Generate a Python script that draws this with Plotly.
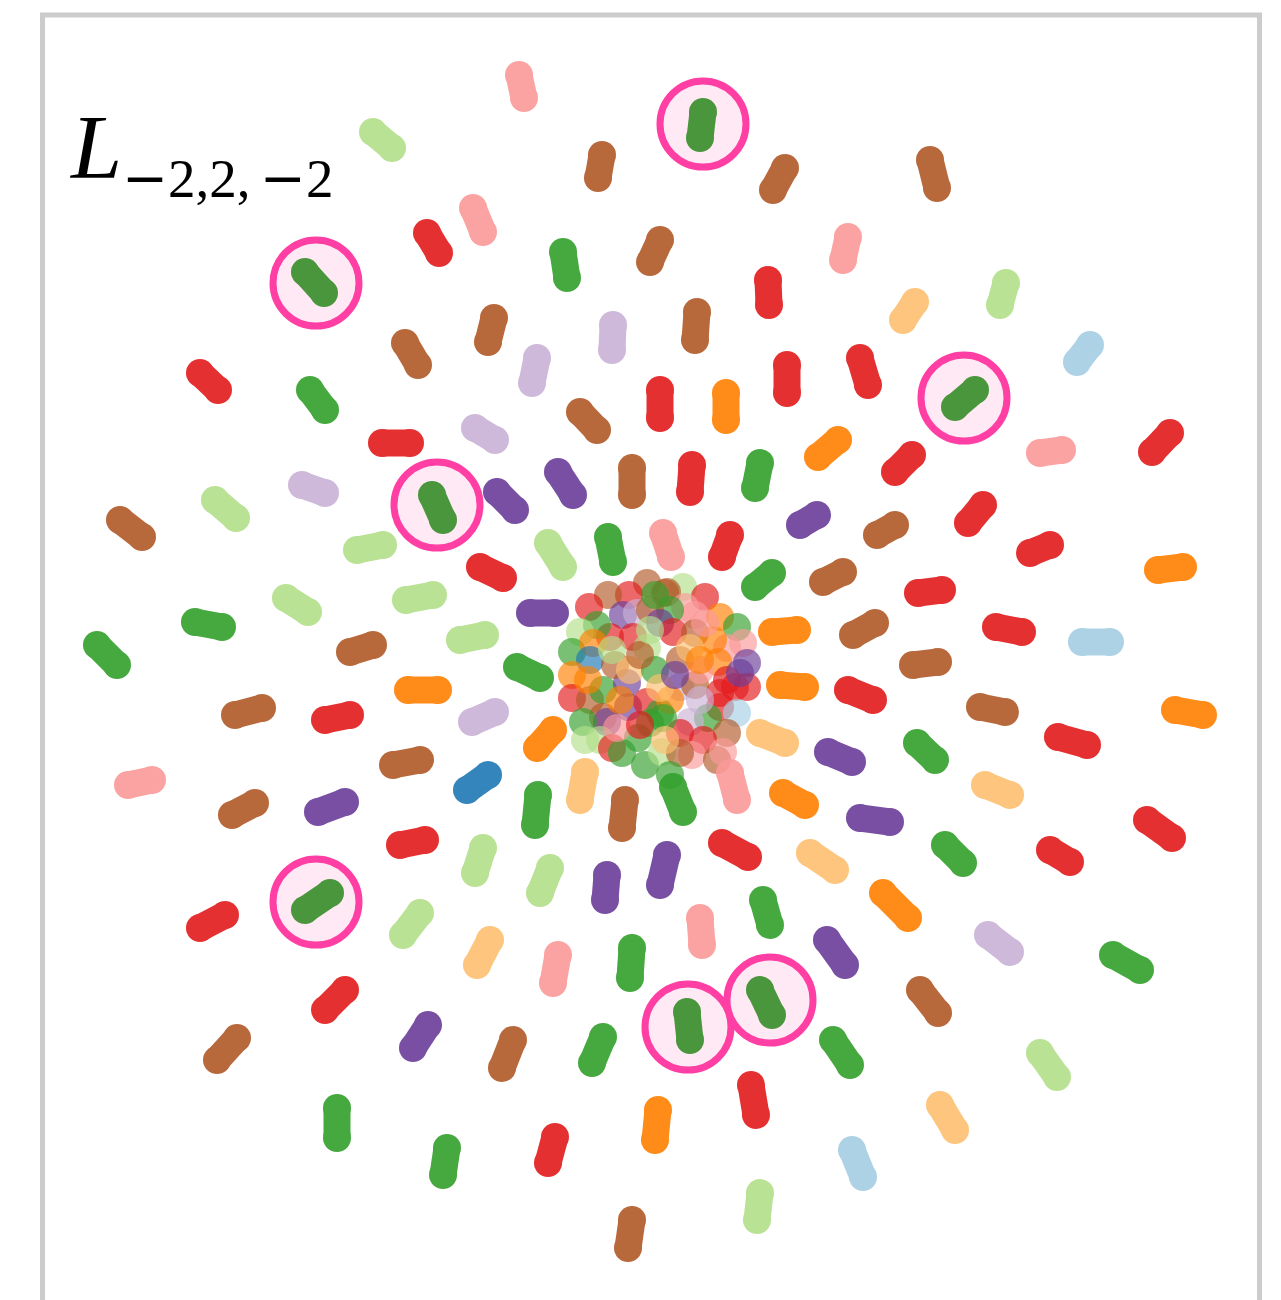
import plotly.graph_objects as go

# Paired palette
palette = {
    "lb": "#a6cee3", "b": "#1f78b4", "lg": "#b2df8a", "g": "#33a02c",
    "pk": "#fb9a99", "r": "#e31a1c", "lo": "#fdbf6f", "o": "#ff7f00",
    "lp": "#cab2d6", "p": "#6a3d9a", "br": "#b15928", "hg": "#4a963c",
}

# capsule start / end points (pixel-like units) and colour group
cap_x0 = [519,703,373,602,785,930,473,427,563,660,848,768,1006,915,305,494,613,697,1090,200,405,537,787,860,975,310,660,726,580,382,475,838,1040,1170,912,432,302,497,558,632,692,760,120,215,817,895,983,357,480,548,608,663,730,772,843,1050,918,1158,286,406,195,530,772,875,996,1082,97,350,460,517,913,408,780,848,1175,235,325,472,980,1058,553,760,828,917,128,393,467,585,538,730,673,783,985,232,318,625,860,400,483,722,810,945,1147,1050,550,607,667,883,330,200,420,763,700,490,558,632,827,988,1113,760,687,345,428,513,603,920,833,237,1040,337,751,658,940,447,555,852,760,632]
cap_y0 = [75,112,132,155,168,160,208,233,252,240,237,280,283,302,272,318,325,312,345,373,343,358,365,358,390,390,390,393,412,443,428,440,453,433,455,495,485,492,472,468,465,463,520,500,515,525,505,550,567,543,537,533,535,573,572,545,593,570,598,600,622,613,632,623,627,642,645,652,640,667,665,690,685,690,710,715,720,722,707,737,730,733,752,743,785,765,790,772,795,773,787,793,785,815,812,800,818,845,848,843,853,845,820,850,868,875,855,893,893,928,913,900,918,940,955,948,940,935,955,990,1012,990,1025,1040,1037,990,1040,1038,1053,1108,1085,1110,1105,1148,1137,1150,1193,1220]
cap_x1 = [524,700,392,598,773,937,483,439,567,650,843,769,1000,903,324,488,612,695,1077,218,418,532,787,868,955,325,660,726,597,410,495,818,1062,1152,895,443,325,515,573,632,690,755,142,236,800,877,968,383,503,563,613,671,722,755,823,1030,942,1183,308,433,222,555,797,853,1022,1110,117,373,485,540,938,438,805,873,1203,262,350,495,1005,1087,537,785,852,935,152,420,488,580,535,737,683,805,1010,255,345,622,890,425,475,748,835,963,1172,1070,540,605,660,908,305,225,403,770,702,477,553,630,845,1010,1140,772,690,325,413,502,592,938,850,217,1057,337,756,655,955,443,548,863,757,628]
cap_y1 = [98,138,148,178,190,188,232,253,278,262,260,305,305,320,293,342,350,340,362,390,365,383,393,385,407,410,418,420,430,443,440,457,450,452,472,520,493,510,495,495,492,488,537,518,525,535,523,545,578,567,562,557,557,587,582,553,590,567,612,595,627,613,630,635,632,642,665,645,635,678,662,690,687,700,715,708,715,712,712,745,748,743,762,760,780,760,775,800,825,800,812,805,795,803,802,828,822,840,873,857,870,863,838,862,893,900,885,918,910,915,935,925,945,965,983,978,965,952,970,1015,1040,1010,1048,1068,1063,1013,1065,1060,1077,1138,1115,1140,1130,1175,1163,1177,1220,1248]
cap_grp = ["pk","hg","lg","br","br","br","pk","r","g","br","pk","r","lg","lo","hg","br","lp","br","lb","r","br","lp","r","r","hg","g","r","o","br","r","lp","o","pk","r","r","hg","lp","p","p","br","r","g","br","lg","p","br","r","lg","r","lg","g","pk","r","g","br","r","r","o","lg","lg","g","p","o","br","r","lb","g","br","lg","g","br","o","o","r","o","br","r","lp","br","r","o","lo","p","g","pk","br","b","lo","g","pk","g","o","lo","br","p","br","p","r","lg","r","lo","g","r","r","lg","p","p","o","hg","r","lg","g","pk","lo","pk","g","p","lp","g","hg","hg","r","p","br","g","br","g","br","lg","g","r","o","lo","g","r","lb","lg","br"]

# central cloud of single points
clu_x = [647,683,629,608,665,589,705,667,685,695,623,637,670,650,720,737,660,673,695,610,633,597,580,572,593,647,590,743,727,713,747,718,680,572,572,590,603,627,628,647,603,607,583,600,612,622,645,638,662,617,650,660,747,735,720,727,740,680,695,670,720,737,708,690,680,727,703,692,680,663,615,630,655,700,640,690,660,612,700,665,650,700,675,620,588,705,655,640,670,717,723,585]
clu_y = [583,587,595,595,593,607,597,592,607,615,615,613,610,610,617,627,623,632,633,637,637,625,632,652,643,648,660,643,648,640,663,662,660,675,698,700,690,683,707,702,717,722,722,740,748,753,765,738,752,728,723,713,687,687,693,680,673,687,685,700,707,713,718,722,733,733,740,755,753,718,665,670,670,670,655,648,688,650,700,740,630,660,675,700,680,623,595,725,775,760,752,740]
clu_grp = ["br","lg","r","br","br","r","r","br","pk","pk","p","lp","g","br","o","g","p","r","br","r","r","g","lg","g","o","lg","b","pk","pk","o","p","o","br","o","r","br","g","p","p","r","br","p","g","lg","r","g","g","g","lg","pk","g","g","r","r","r","r","p","lp","br","o","r","lb","g","lp","r","br","r","pk","br","g","br","lo","g","pk","br","lo","lo","lg","lp","lo","lg","o","p","o","o","pk","g","r","g","br","pk","lg"]

# highlighted points (ring centres)
hl_x = [703,316,964,437,316,770,688]
hl_y = [124,283,398,505,902,1000,1027]

W, H = 1281, 1300
fig = go.Figure()

fig.add_trace(go.Scatter(
    x=hl_x, y=hl_y, mode="markers", hoverinfo="skip",
    marker=dict(size=86, color="#fee9f4", line=dict(color="#ff3fa4", width=7)),
))

fig.add_trace(go.Scatter(
    x=clu_x, y=clu_y, mode="markers", hoverinfo="skip",
    marker=dict(size=28, color=[palette[c] for c in clu_grp], opacity=0.66, line=dict(width=0)),
))

for key in palette:
    xs, ys = [], []
    for i, g in enumerate(cap_grp):
        if g == key:
            xs += [cap_x0[i], cap_x1[i], None]
            ys += [cap_y0[i], cap_y1[i], None]
    if not xs:
        continue
    fig.add_trace(go.Scatter(
        x=xs, y=ys, mode="lines+markers", hoverinfo="skip",
        opacity=1.0 if key == "hg" else 0.9,
        line=dict(color=palette[key], width=27),
        marker=dict(size=28, color=palette[key], line=dict(width=0)),
    ))

fig.add_shape(type="rect", xref="x", yref="y", x0=42.5, x1=1259.5, y0=15, y1=1320,
              line=dict(color="#cccccc", width=5), fillcolor="rgba(0,0,0,0)", layer="below")

MINUS = '<span style="font-family:DejaVu Sans">−</span>'
MINUS2 = '<span style="font-family:DejaVu Sans">\u2006−</span>'
fig.add_annotation(x=67, y=147, xref="x", yref="y", text="<i>L</i>", showarrow=False,
                   xanchor="left", yanchor="middle",
                   font=dict(family="Liberation Serif", size=92, color="black"))
fig.add_annotation(x=120, y=178, xref="x", yref="y", text=MINUS + "2,2," + MINUS2 + "2",
                   showarrow=False, xanchor="left", yanchor="middle",
                   font=dict(family="Liberation Serif", size=55, color="black"))

fig.update_layout(
    width=W, height=H, margin=dict(l=0, r=0, t=0, b=0),
    paper_bgcolor="white", plot_bgcolor="white", showlegend=False,
    xaxis=dict(range=[0, W], visible=False, fixedrange=True),
    yaxis=dict(range=[H, 0], visible=False, fixedrange=True),
)

fig.write_html("out.html", config={"displayModeBar": False},
               post_script="document.body.style.margin='0';document.body.style.overflow='hidden';")
